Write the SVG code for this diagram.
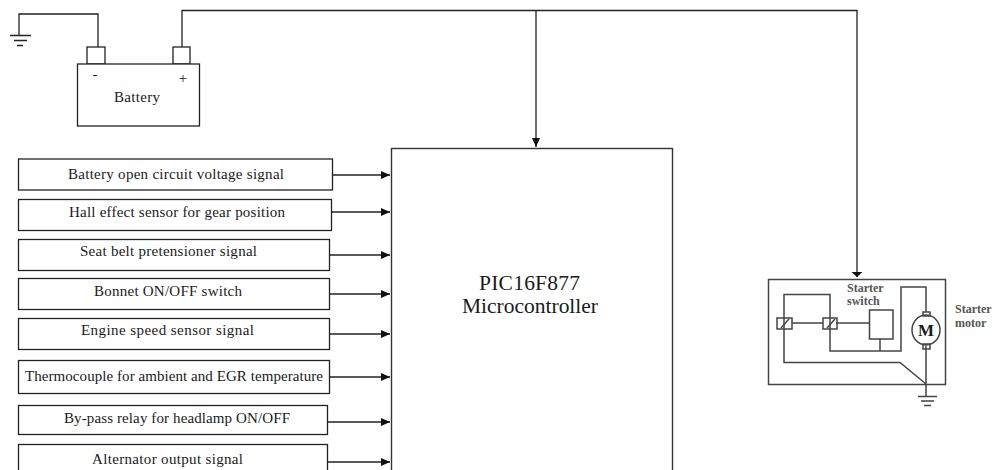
<svg xmlns="http://www.w3.org/2000/svg" width="992" height="470" viewBox="0 0 992 470">
<style>
text{font-family:"Liberation Serif","Times New Roman",serif;fill:#1a1a1a;text-anchor:middle}
.l{font-size:15px}
.b{fill:#fff;stroke:#222;stroke-width:1.3}
.w{fill:none;stroke:#222;stroke-width:1.3}
.m{fill:none;stroke:#444;stroke-width:1.5}
.s{font-size:12px;font-weight:bold;text-anchor:start;fill:#555}
</style>
<defs>
<marker id="a" markerWidth="10" markerHeight="8" refX="9" refY="4" orient="auto" markerUnits="userSpaceOnUse"><path d="M0 0L9 4L0 8z" fill="#111"/></marker>
<marker id="a2" markerWidth="12" markerHeight="6" refX="6" refY="5.500" orient="0" markerUnits="userSpaceOnUse"><path d="M0 0H12L6 5.500z" fill="#111"/></marker>
</defs>
<rect width="992" height="470" fill="#fff"/>
<g id="connectors">
<path class="w" d="M19 35V14H98V47"/>
<path class="w" d="M182 47V10.500H857V277" marker-end="url(#a2)"/>
<path class="w" d="M536 10.500V147" marker-end="url(#a)"/>
<path class="w" d="M333 175H390" marker-end="url(#a)"/>
<path class="w" d="M332 212H390" marker-end="url(#a)"/>
<path class="w" d="M330 255H390" marker-end="url(#a)"/>
<path class="w" d="M330 294H390" marker-end="url(#a)"/>
<path class="w" d="M330 334H390" marker-end="url(#a)"/>
<path class="w" d="M330 377H390" marker-end="url(#a)"/>
<path class="w" d="M328 422H390" marker-end="url(#a)"/>
<path class="w" d="M328 462H390" marker-end="url(#a)"/>
</g>
<g id="ground"><path class="w" d="M10 35.500H31M14 40.500H27M17 45.500H23"/></g>
<g id="battery">
<rect class="b" x="87" y="47" width="18" height="17"/>
<rect class="b" x="173" y="47" width="17" height="17"/>
<rect class="b" x="77.500" y="64" width="122" height="62"/>
<text x="95" y="79" font-size="15">-</text>
<text x="183" y="83" font-size="15">+</text>
<text class="l" x="137" y="102" textLength="46">Battery</text>
</g>
<g id="mcu">
<rect x="391.500" y="148.500" width="281" height="330" fill="#fff" stroke="#333" stroke-width="1.4"/>
<text x="529.500" y="290" font-size="21.500" textLength="101">PIC16F877</text>
<text x="530" y="313" font-size="21.500" textLength="136">Microcontroller</text>
</g>
<g id="s1"><rect class="b" x="18.500" y="159" width="314" height="31"/><text class="l" x="176" y="179" textLength="216">Battery open circuit voltage signal</text></g>
<g id="s2"><rect class="b" x="18.500" y="199.500" width="313" height="31"/><text class="l" x="177" y="217" textLength="216">Hall effect sensor for gear position</text></g>
<g id="s3"><rect class="b" x="18.500" y="239.500" width="311" height="31"/><text class="l" x="168.500" y="256" textLength="177">Seat belt pretensioner signal</text></g>
<g id="s4"><rect class="b" x="18.500" y="278.500" width="311" height="31"/><text class="l" x="168" y="296" textLength="148">Bonnet ON/OFF switch</text></g>
<g id="s5"><rect class="b" x="18.500" y="318.500" width="311" height="31"/><text class="l" x="167.500" y="335" textLength="173">Engine speed sensor signal</text></g>
<g id="s6"><rect class="b" x="18.500" y="360.500" width="311" height="33"/><text class="l" x="174" y="381" textLength="298">Thermocouple for ambient and EGR temperature</text></g>
<g id="s7"><rect class="b" x="18.500" y="405.500" width="309" height="29"/><text class="l" x="177" y="423" textLength="226">By-pass relay for headlamp ON/OFF</text></g>
<g id="s8"><rect class="b" x="18.500" y="444.500" width="309" height="40"/><text class="l" x="167.500" y="464" textLength="151">Alternator output signal</text></g>
<g id="starter">
<rect class="m" x="768.500" y="279.500" width="177" height="105"/>
<path class="m" d="M784 329V294.500H830V351H901V287H926V312M830 318V323M784 329V362.500H900L926 384M926 346V396M836 323H870M792 323H823M880 339V351"/>
<rect class="m" x="777" y="318" width="15" height="11" fill="#fff"/><path class="m" d="M781 328L789 319"/>
<rect class="m" x="823" y="318" width="14" height="11" fill="#fff"/><path class="m" d="M827 328L835 319"/>
<rect class="m" x="869.500" y="310" width="23.500" height="29" fill="#fff"/>
<rect class="m" x="923" y="312" width="7" height="4"/><rect class="m" x="923" y="344" width="7" height="5"/>
<ellipse class="m" cx="926" cy="330" rx="14" ry="15" fill="#fff"/>
<text x="926" y="336" font-size="17" font-weight="bold" fill="#333">M</text>
<path class="m" d="M918 396.500H937M921 401H934M924 405.500H931"/>
<text class="s" x="847" y="292">Starter</text><text class="s" x="847" y="305">switch</text>
<text class="s" x="955" y="313">Starter</text><text class="s" x="955" y="327">motor</text>
</g>
</svg>
